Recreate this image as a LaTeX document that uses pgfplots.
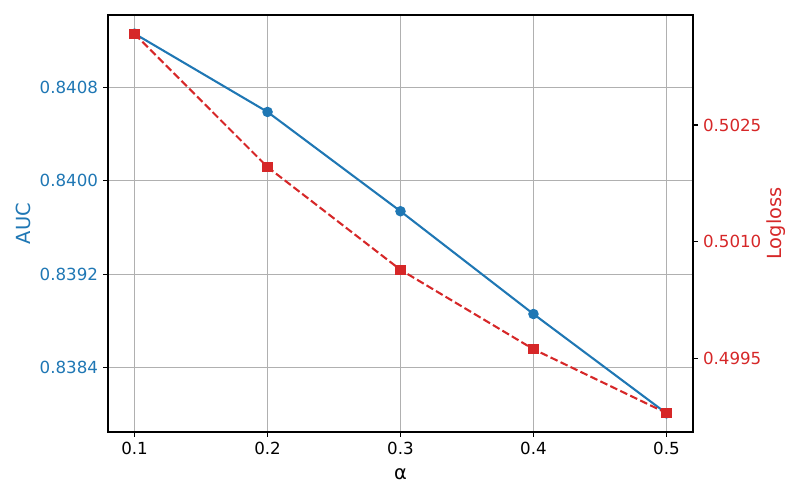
\documentclass[border=0pt]{standalone}
\usepackage{fontspec}
\setmainfont{DejaVu Sans}
\usepackage{pgfplots}
\pgfplotsset{compat=1.18}
\definecolor{tabblue}{HTML}{1F77B4}
\definecolor{tabred}{HTML}{D62728}
\definecolor{gridgray}{HTML}{B0B0B0}
\begin{document}
\begin{tikzpicture}
\path[use as bounding box] (-77.76bp,-48.96bp) rectangle (498.24bp,311.04bp);
\pgfplotsset{
  common/.style={
    at={(0,0)}, anchor=south west, scale only axis,
    width=421.2bp, height=300.24bp,
    xmin=0.08, xmax=0.52,
    xtick={0.1,0.2,0.3,0.4,0.5},
    tick align=outside,
    major tick length=3.5bp,
    every tick/.style={black, line width=0.8bp},
    axis line style={black, line width=0.8bp},
    minor tick num=0,
    tick label style={font=\fontsize{12bp}{14bp}\selectfont, inner sep=0pt},
    label style={font=\fontsize{14bp}{17bp}\selectfont},
    /pgf/number format/assume math mode=true,
  }
}
\begin{axis}[
  common,
  ymin=0.83785, ymax=0.84142,
  ytick={0.8384,0.8392,0.8400,0.8408},
  xtick pos=bottom, ytick pos=left,
  grid=major,
  major grid style={gridgray, line width=0.8bp},
  xticklabel style={anchor=north, yshift=-3.5bp},
  yticklabel style={anchor=east, xshift=-3.5bp, text=tabblue,
    /pgf/number format/.cd, fixed, fixed zerofill, precision=4},
  xticklabel style={/pgf/number format/.cd, fixed, fixed zerofill, precision=1},
  scaled y ticks=false,
  xlabel={α},
  ylabel={AUC},
  xlabel style={at={(axis description cs:0.5,-0.1007)}, anchor=center},
  ylabel style={at={(axis description cs:-0.1453,0.5)}, anchor=center, rotate=0, text=tabblue},
]
\addplot[color=tabblue, line width=1.5bp, mark=*, mark size=3bp, mark options={solid, fill=tabblue, draw=tabblue}]
coordinates {(0.1,0.84126) (0.2,0.84059) (0.3,0.83974) (0.4,0.83886) (0.5,0.83801)};
\end{axis}
\begin{axis}[
  common,
  ymin=0.498556, ymax=0.503914,
  axis x line=none,
  axis y line*=right,
  ytick={0.4995,0.5010,0.5025},
  yticklabel style={anchor=west, xshift=3.5bp, text=tabred,
    /pgf/number format/.cd, fixed, fixed zerofill, precision=4},
  scaled y ticks=false,
  ylabel={Logloss},
  ylabel style={at={(axis description cs:1.142,0.5)}, anchor=center, rotate=0, text=tabred},
]
\addplot[color=tabred, line width=1.5bp, dash pattern=on 5.55bp off 2.4bp, mark=square*, mark size=3bp, mark options={solid, fill=tabred, draw=tabred}]
coordinates {(0.1,0.50367) (0.2,0.50196) (0.3,0.50064) (0.4,0.49962) (0.5,0.49880)};
\end{axis}
\end{tikzpicture}
\end{document}
